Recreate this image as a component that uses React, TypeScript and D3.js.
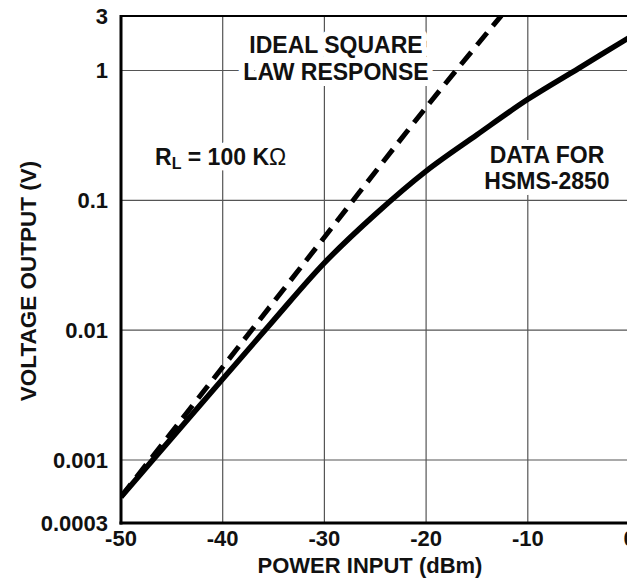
import React from "react";
import * as d3 from "d3";

const xTicks = [-50, -40, -30, -20, -10, 0];
const xTickLabels = ["-50", "-40", "-30", "-20", "-10", "0"];
const xMin = -50;
const xMax = 0;
const yMin = 0.000327;
const yMax = 2.63;
const yTicks = [yMin, 0.001, 0.01, 0.1, 1, yMax];
const yTickLabels = ["0.0003", "0.001", "0.01", "0.1", "1", "3"];
const yGrid = [0.001, 0.01, 0.1, 1];
const xGrid = [-40, -30, -20, -10];

const dataP = [-50, -45, -40, -35, -30, -25, -20, -15, -10, -5, 0];
const dataV = [0.00052, 0.00148, 0.0042, 0.0119, 0.033, 0.078, 0.168, 0.32, 0.6, 1.04, 1.8];

const idealP = [-50, -40, -30, -20, -12.6];
const idealV = [0.00052, 0.0052, 0.052, 0.52, 2.65];

const FONT = "'Liberation Sans', Arial, Helvetica, sans-serif";

type Ann = { x: number; y: number; text: string; anchor: string };
const annotations: Ann[] = [
  { x: 336, y: 53, text: "IDEAL SQUARE", anchor: "middle" },
  { x: 336, y: 80, text: "LAW RESPONSE", anchor: "middle" },
  { x: 547, y: 163, text: "DATA FOR", anchor: "middle" },
  { x: 547, y: 189, text: "HSMS-2850", anchor: "middle" },
];

export default function App() {
  const W = 627;
  const H = 579;
  const left = 121;
  const right = 629.5;
  const top = 16;
  const bottom = 523;

  const x = d3.scaleLinear().domain([xMin, xMax]).range([left, right]);
  const y = d3.scaleLog().domain([yMin, yMax]).range([bottom, top]);

  const line = d3
    .line<[number, number]>()
    .x((d) => x(d[0]))
    .y((d) => y(d[1]))
    .curve(d3.curveCatmullRom.alpha(0.5));

  const dataPts = dataP.map((p, i) => [p, dataV[i]] as [number, number]);
  const idealPts = idealP.map((p, i) => [p, idealV[i]] as [number, number]);

  const annSize = 23;

  const rl = (halo: boolean) => (
    <text
      x={155}
      y={165}
      fontSize={annSize}
      fill={halo ? "#fff" : "#111"}
      stroke={halo ? "#fff" : "none"}
      strokeWidth={halo ? 12 : 0}
      strokeLinejoin="round"
    >
      R<tspan fontSize={16} dy={4}>L</tspan>
      <tspan dy={-4}> = 100 K</tspan>
      <tspan fontWeight="normal">Ω</tspan>
    </text>
  );

  return (
    <svg
      width={W}
      height={H}
      style={{ position: "absolute", left: 0, top: 0, display: "block", background: "#fff" }}
      fontFamily={FONT}
      fontWeight="bold"
    >
      <defs>
        <clipPath id="plot">
          <rect x={left} y={top} width={right - left} height={bottom - top} />
        </clipPath>
      </defs>
      <rect x={0} y={0} width={W} height={H} fill="#fff" />
      {/* grid */}
      {yGrid.map((v) => (
        <line key={"gy" + v} x1={left} x2={right} y1={y(v)} y2={y(v)} stroke="#555" strokeWidth={1.2} />
      ))}
      {xGrid.map((v) => (
        <line key={"gx" + v} x1={x(v)} x2={x(v)} y1={top} y2={bottom} stroke="#555" strokeWidth={1.2} />
      ))}

      {/* annotation halos */}
      <g fill="#fff" stroke="#fff" strokeWidth={12} strokeLinejoin="round">
        {annotations.map((a, i) => (
          <text key={"h" + i} x={a.x} y={a.y} fontSize={annSize} textAnchor={a.anchor}>
            {a.text}
          </text>
        ))}
      </g>
      {rl(true)}
      <g fill="#111">
        {annotations.map((a, i) => (
          <text key={"a" + i} x={a.x} y={a.y} fontSize={annSize} textAnchor={a.anchor}>
            {a.text}
          </text>
        ))}
      </g>
      {rl(false)}

      {/* curves */}
      <g clipPath="url(#plot)">
        <path d={line(idealPts) || ""} fill="none" stroke="#000" strokeWidth={5} strokeDasharray="16 9" />
        <path d={line(dataPts) || ""} fill="none" stroke="#000" strokeWidth={5.5} />
      </g>

      {/* frame */}
      <line x1={left} x2={right} y1={top} y2={top} stroke="#000" strokeWidth={2} />
      <line x1={right} x2={right} y1={top} y2={bottom} stroke="#000" strokeWidth={2} />
      <line x1={left} x2={left} y1={top - 1} y2={bottom + 1.5} stroke="#000" strokeWidth={3} />
      <line x1={left - 1.5} x2={right} y1={bottom} y2={bottom} stroke="#000" strokeWidth={3} />

      {/* y tick labels */}
      {yTicks.map((v, i) => (
        <text key={"yt" + i} x={108} y={y(v)} dy="0.35em" fontSize={22} textAnchor="end" fill="#111">
          {yTickLabels[i]}
        </text>
      ))}
      {/* x tick labels */}
      {xTicks.map((v, i) => (
        <text key={"xt" + i} x={x(v)} y={546} fontSize={22} textAnchor="middle" fill="#111">
          {xTickLabels[i]}
        </text>
      ))}

      {/* axis titles */}
      <text x={370} y={573} fontSize={22} textAnchor="middle" fill="#111">POWER INPUT (dBm)</text>
      <text
        transform={`translate(36,281) rotate(-90)`}
        fontSize={22.5}
        textAnchor="middle"
        fill="#111"
      >
        VOLTAGE OUTPUT (V)
      </text>
    </svg>
  );
}
